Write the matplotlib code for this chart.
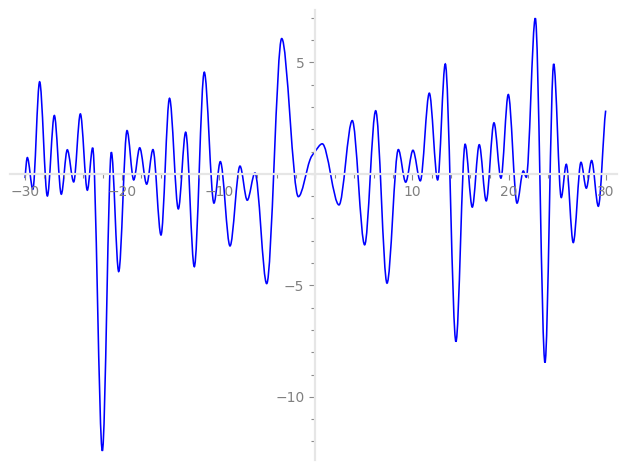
import matplotlib
matplotlib.use("Agg")
import matplotlib.pyplot as plt
from matplotlib.path import Path
from matplotlib.patches import PathPatch
import numpy as np

# turning points of the curve
x_pts = [-30.0, -29.77, -29.2, -28.5, -27.7, -26.98, -26.26, -25.64, -24.98, -24.29,
         -23.57, -23.02, -22.02, -21.09, -20.33, -19.47, -18.78, -18.16, -17.44, -16.79,
         -15.96, -15.08, -14.17, -13.41, -12.52, -11.49, -10.49, -9.83, -8.83, -7.80,
         -7.05, -6.25, -5.04, -3.49, -1.77, -0.57, -0.05, 0.70, 2.43, 3.80,
         5.08, 6.22, 7.39, 8.56, 9.32, 10.07, 10.83, 11.76, 12.62, 13.41,
         14.51, 15.46, 16.2, 16.92, 17.64, 18.44, 19.16, 19.92, 20.82, 21.47,
         21.78, 22.71, 23.71, 24.61, 25.39, 25.91, 26.63, 27.43, 27.98, 28.53,
         29.22, 29.98]
y_pts = [-0.19, 0.73, -0.69, 4.13, -0.99, 2.62, -0.91, 1.08, -0.36, 2.69,
         -0.73, 1.17, -12.42, 0.97, -4.38, 1.94, -0.27, 1.17, -0.46, 1.09,
         -2.74, 3.39, -1.57, 1.87, -4.16, 4.56, -1.31, 0.55, -3.23, 0.35,
         -1.18, 0.04, -4.92, 6.07, -1.02, 0.63, 1.0, 1.35, -1.39, 2.39,
         -3.18, 2.83, -4.90, 1.09, -0.37, 1.06, -0.31, 3.62, -0.27, 4.93,
         -7.52, 1.33, -1.49, 1.31, -1.21, 2.29, -0.19, 3.56, -1.31, 0.13,
         -0.15, 6.98, -8.46, 4.93, -1.06, 0.43, -3.08, 0.52, -0.64, 0.60,
         -1.45, 2.84]

x = np.array(x_pts)
y = np.array(y_pts)
n = len(x)

# tangent at each point: flat at peaks/troughs, otherwise from neighbours
m = np.zeros(n)
for i in range(1, n - 1):
    peak = (y[i] - y[i - 1]) * (y[i + 1] - y[i]) <= 0
    if not peak:
        m[i] = (y[i + 1] - y[i - 1]) / (x[i + 1] - x[i - 1])
m[0] = 1.5 * (y[1] - y[0]) / (x[1] - x[0])
m[-1] = 0.6 * (y[-1] - y[-2]) / (x[-1] - x[-2])

verts = [(x[0], y[0])]
codes = [Path.MOVETO]
for i in range(n - 1):
    dx = x[i + 1] - x[i]
    verts.append((x[i] + dx / 3, y[i] + m[i] * dx / 3))
    verts.append((x[i + 1] - dx / 3, y[i + 1] - m[i + 1] * dx / 3))
    verts.append((x[i + 1], y[i + 1]))
    codes += [Path.CURVE4] * 3

fig = plt.figure(figsize=(6.27, 4.70), dpi=100)
ax = fig.add_axes([10 / 627, 10 / 470, 607 / 627, 450 / 470])

ax.add_patch(PathPatch(Path(verts, codes), fill=False, edgecolor='#0000ff',
                       lw=1.15, transform=ax.transData))

ax.set_xlim(-31.56, 31.15)
ax.set_ylim(-12.83, 7.35)

for side in ['top', 'right']:
    ax.spines[side].set_visible(False)
for side in ['left', 'bottom']:
    ax.spines[side].set_position(('data', 0))
    ax.spines[side].set_color('#e6e6e6')
    ax.spines[side].set_linewidth(1.6)

ax.set_xticks([-30, -20, -10, 10, 20, 30])
ax.set_xticklabels(['\u221230', '\u221220', '\u221210', '10', '20', '30'])
ax.set_xticks(np.arange(-30, 31, 2), minor=True)
ax.set_yticks([-10, -5, 5])
ax.set_yticklabels(['\u221210', '\u22125', '5'])
ax.set_yticks(np.arange(-12, 8, 1), minor=True)

ax.tick_params(which='both', colors='#8a8a8a', labelcolor='#808080',
               labelsize=10, width=0.8)
ax.tick_params(which='major', length=4, pad=4)
ax.tick_params(which='minor', length=3)

fig.savefig('out.png', dpi=100)
